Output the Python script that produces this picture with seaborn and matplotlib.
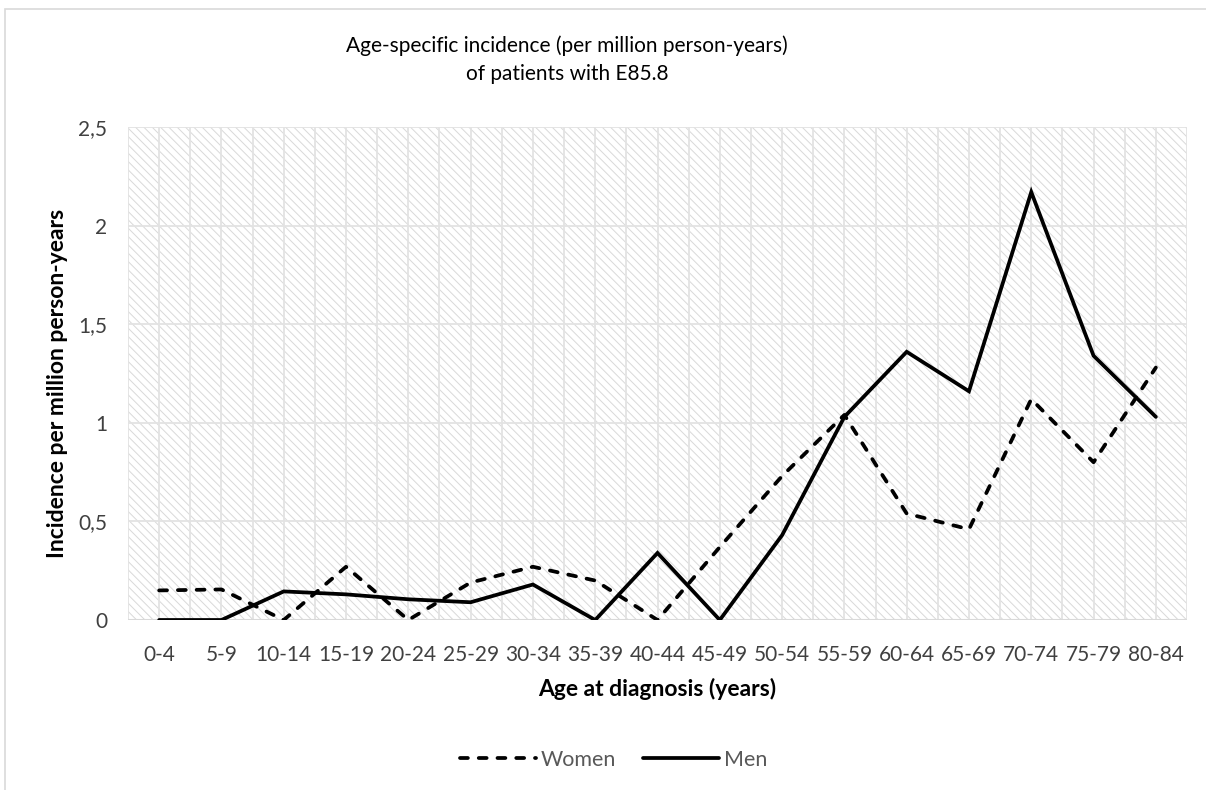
import matplotlib
matplotlib.use("Agg")
import matplotlib.pyplot as plt
import seaborn as sns
import pandas as pd
from matplotlib.patches import Rectangle
from matplotlib.lines import Line2D

# Age groups at diagnosis
age_groups = ["0-4", "5-9", "10-14", "15-19", "20-24", "25-29", "30-34", "35-39",
              "40-44", "45-49", "50-54", "55-59", "60-64", "65-69", "70-74",
              "75-79", "80-84"]

# Incidence per million person-years
women = [0.15, 0.155, 0.0, 0.27, 0.0, 0.19, 0.27, 0.20, 0.0, 0.37, 0.73,
         1.04, 0.54, 0.46, 1.12, 0.80, 1.28]
men = [0.0, 0.0, 0.145, 0.13, 0.105, 0.09, 0.18, 0.0, 0.34, 0.0, 0.43,
       1.03, 1.36, 1.16, 2.17, 1.34, 1.03]

y_ticks = [0, 0.5, 1, 1.5, 2, 2.5]
y_tick_labels = ["0", "0,5", "1", "1,5", "2", "2,5"]

df = pd.concat([
    pd.DataFrame({"age": age_groups, "incidence": women, "sex": "Women"}),
    pd.DataFrame({"age": age_groups, "incidence": men, "sex": "Men"}),
], ignore_index=True)

sns.set_theme(style="white")
plt.rcParams["font.family"] = ["Lato", "DejaVu Sans"]
plt.rcParams["hatch.linewidth"] = 0.7

W, H = 1206, 790
fig = plt.figure(figsize=(W / 100, H / 100), dpi=100)
ax = fig.add_axes([128 / W, 1 - 620 / H, (1187 - 128) / W, (620 - 127) / H])

# hatched plot area
ax.add_patch(Rectangle((0, 0), 1, 1, transform=ax.transAxes, facecolor="white",
                       edgecolor="#d9d9d9", linewidth=0, hatch="\\\\\\\\", zorder=0))

LW = 2.7
dash_w = (2.1, 2.9)
sns.lineplot(data=df, x="age", y="incidence", style="sex",
             dashes={"Women": dash_w, "Men": ""}, color="black",
             linewidth=LW, sort=False, legend=False, ax=ax)
for ln in ax.get_lines():
    ln.set_dash_capstyle("round")
    ln.set_solid_joinstyle("miter")
    ln.set_zorder(3)

ax.set_xlim(-0.5, len(age_groups) - 0.5)
ax.set_ylim(0, 2.5)
ax.set_yticks(y_ticks)
ax.set_yticklabels(y_tick_labels)

# gridlines: between categories and at category centres
for x in [i * 0.5 - 0.5 for i in range(2 * len(age_groups) + 1)]:
    ax.axvline(x, color="#e3e3e3", lw=1.3, zorder=1)
for y in y_ticks[1:]:
    ax.axhline(y, color="#e3e3e3", lw=1.3, zorder=1)
ax.axhline(0, color="#d9d9d9", lw=1.5, zorder=2)

for s in ax.spines.values():
    s.set_visible(False)
ax.tick_params(axis="both", length=0, labelsize=15, colors="#404040")
ax.tick_params(axis="x", pad=18)
ax.tick_params(axis="y", pad=15)

ax.set_xlabel("Age at diagnosis (years)", fontsize=16.5, fontweight="bold",
              color="black", labelpad=9)
ax.set_ylabel("Incidence per million person-years", fontsize=16.5,
              fontweight="bold", color="black", labelpad=7)
ax.yaxis.label.set_y(0.48)

fig.text(567 / W, 1 - 46 / H, "Age-specific incidence (per million person-years)",
         ha="center", va="center", fontsize=15, color="black")
fig.text(567 / W, 1 - 74 / H, "of patients with E85.8",
         ha="center", va="center", fontsize=15, color="black")

handles = [Line2D([], [], color="black", lw=LW, dashes=dash_w, dash_capstyle="round"),
           Line2D([], [], color="black", lw=LW, solid_capstyle="round")]
leg = fig.legend(handles, ["Women", "Men"], loc="center", ncol=2,
                 bbox_to_anchor=(614 / W, 1 - 760 / H), frameon=False,
                 handlelength=3.5, handletextpad=0.25, columnspacing=1.25,
                 fontsize=15.5)
for t in leg.get_texts():
    t.set_color("#595959")

# chart frame
fig.add_artist(Rectangle((5 / W, -0.1), 1.2, 1.1 - 9 / H, transform=fig.transFigure,
                         fill=False, edgecolor="#d9d9d9", lw=1.2))

fig.savefig("out.png", dpi=100, facecolor="white")
